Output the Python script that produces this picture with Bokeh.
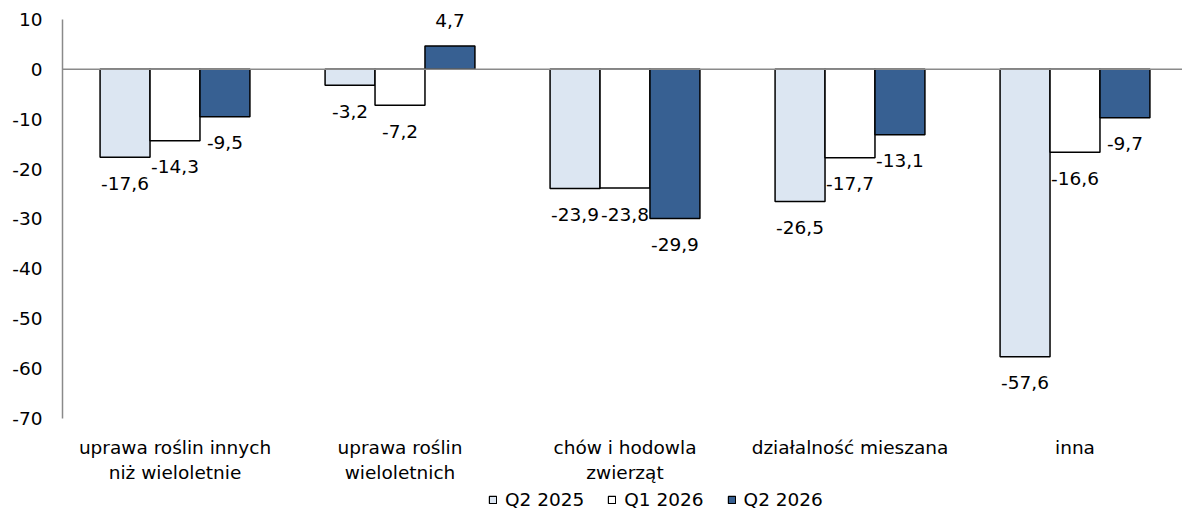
from bokeh.plotting import figure
from bokeh.layouts import column
from bokeh.models import Range1d, FixedTicker, Span, Legend, LegendItem, ColumnDataSource
from bokeh.core.properties import value
from bokeh.embed import file_html
from bokeh.resources import INLINE

categories = ["uprawa roślin innych\nniż wieloletnie", "uprawa roślin\nwieloletnich",
              "chów i hodowla\nzwierząt", "działalność mieszana", "inna"]
series_names = ["Q2 2025", "Q1 2026", "Q2 2026"]
q2_2025 = [-17.6, -3.2, -23.9, -26.5, -57.6]
q1_2026 = [-14.3, -7.2, -23.8, -17.7, -16.6]
q2_2026 = [-9.5, 4.7, -29.9, -13.1, -9.7]
y_ticks = [10, 0, -10, -20, -30, -40, -50, -60, -70]

colors = ["#dce6f2", "#ffffff", "#376092"]
FONT = "DejaVu Sans"
FS = "18.5px"

p = figure(width=1182, height=485, output_backend="svg", toolbar_location=None,
           x_range=Range1d(0, 1120 / 225), y_range=Range1d(-70, 12),
           min_border_left=62, min_border_right=0, min_border_top=9, min_border_bottom=67)
p.outline_line_color = None
p.grid.visible = False
p.background_fill_color = "white"

n = len(categories)
bar_w = 0.222
offsets = [-bar_w, 0, bar_w]
fmt = lambda v: ("%.1f" % v).replace(".", ",")
for s, (name, vals, col, off) in enumerate(zip(series_names, [q2_2025, q1_2026, q2_2026], colors, offsets)):
    xs = [i + 0.5 + off for i in range(n)]
    src = ColumnDataSource(dict(x=xs, top=vals))
    p.vbar(x="x", top="top", bottom=0, width=bar_w, source=src,
           fill_color=col, line_color="black", line_width=1.5)
    neg = ColumnDataSource(dict(x=[x for x, v in zip(xs, vals) if v < 0],
                                y=[v for v in vals if v < 0],
                                t=[fmt(v) for v in vals if v < 0]))
    pos = ColumnDataSource(dict(x=[x for x, v in zip(xs, vals) if v >= 0],
                                y=[v for v in vals if v >= 0],
                                t=[fmt(v) for v in vals if v >= 0]))
    p.text(x="x", y="y", text="t", source=neg, text_align="center", text_baseline="middle",
           y_offset=26, text_font=value(FONT), text_font_size=FS, text_color="black")
    p.text(x="x", y="y", text="t", source=pos, text_align="center", text_baseline="middle",
           y_offset=-25, text_font=value(FONT), text_font_size=FS, text_color="black")

p.add_layout(Span(location=0, dimension="width", line_color="#8a8a8a", line_width=1.5))

# y axis
p.yaxis.ticker = FixedTicker(ticks=y_ticks)
p.yaxis.bounds = (-70, 10)
p.yaxis.major_label_overrides = {t: str(t) for t in y_ticks}
p.yaxis.axis_line_color = "#8a8a8a"
p.yaxis.axis_line_width = 1.5
p.yaxis.major_tick_line_color = None
p.yaxis.minor_tick_line_color = None
p.yaxis.major_label_standoff = 14
p.yaxis.major_label_text_font = FONT
p.yaxis.major_label_text_font_size = FS
p.yaxis.major_label_text_color = "black"

# x axis
p.xaxis.ticker = FixedTicker(ticks=[i + 0.5 for i in range(n)])
p.xaxis.major_label_overrides = {i + 0.5: c for i, c in enumerate(categories)}
p.xaxis.axis_line_color = None
p.xaxis.major_tick_line_color = None
p.xaxis.minor_tick_line_color = None
p.xaxis.major_label_standoff = 12
p.xaxis.major_label_text_font = FONT
p.xaxis.major_label_text_font_size = FS
p.xaxis.major_label_text_color = "black"

# legend strip below the chart
lg = figure(width=1182, height=37, output_backend="svg", toolbar_location=None,
            x_range=Range1d(0, 1), y_range=Range1d(0, 1),
            x_axis_location=None, y_axis_location=None,
            min_border_left=0, min_border_right=0, min_border_top=0, min_border_bottom=0)
lg.grid.visible = False
lg.outline_line_color = None
items = []
for nm, col in zip(series_names, colors):
    r = lg.vbar(x=[-10], top=[-10], width=0.1, fill_color=col, line_color="black", line_width=1.2)
    items.append(LegendItem(label=nm, renderers=[r]))
legend = Legend(items=items, orientation="horizontal", location=(426, 12),
                label_text_font=FONT, label_text_font_size=FS, label_text_color="black",
                glyph_width=9, glyph_height=9, label_standoff=8, spacing=23,
                border_line_color=None, background_fill_alpha=0, margin=0, padding=2)
lg.add_layout(legend, "center")

open("out.html", "w").write(file_html(column(p, lg, spacing=0), INLINE))
